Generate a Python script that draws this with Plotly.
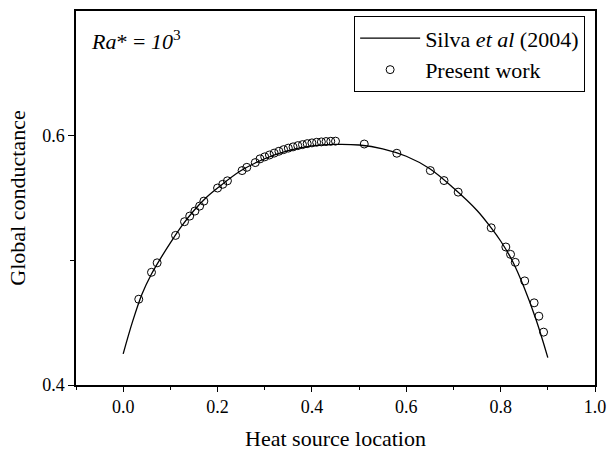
import plotly.graph_objects as go

# Silva et al (2004) curve
silva_x = [0.00, 0.02, 0.04, 0.06, 0.08, 0.10, 0.125, 0.15, 0.175, 0.20, 0.25, 0.30,
           0.35, 0.40, 0.45, 0.50, 0.55, 0.60, 0.65, 0.70, 0.75, 0.78, 0.80, 0.825,
           0.85, 0.875, 0.90]
silva_y = [0.425, 0.451, 0.473, 0.489, 0.502, 0.514, 0.528, 0.540, 0.550, 0.558, 0.572, 0.5815,
           0.588, 0.5918, 0.593, 0.5925, 0.5895, 0.5835, 0.5735, 0.558, 0.540, 0.526, 0.5155, 0.4995,
           0.478, 0.4525, 0.422]

# Present work points
present_x = [0.033, 0.060, 0.072, 0.111, 0.130, 0.141, 0.152, 0.162, 0.171, 0.200, 0.211, 0.221,
             0.252, 0.262, 0.28, 0.29, 0.30, 0.31, 0.32, 0.33, 0.34, 0.35, 0.36, 0.37, 0.38,
             0.39, 0.40, 0.41, 0.42, 0.43, 0.44, 0.45,
             0.511, 0.580, 0.651, 0.680, 0.710, 0.780, 0.811, 0.821, 0.831, 0.851, 0.871,
             0.881, 0.891]
present_y = [0.4688, 0.4904, 0.498, 0.520, 0.531, 0.5355, 0.5395, 0.5435, 0.5475, 0.558, 0.561, 0.5638,
             0.572, 0.5746, 0.5784, 0.5814, 0.583, 0.5845, 0.586, 0.5875, 0.5888, 0.590, 0.591, 0.592,
             0.5928, 0.5936, 0.5942, 0.5947, 0.595, 0.5953, 0.5955, 0.5956,
             0.5933, 0.5859, 0.572, 0.564, 0.5547, 0.5261, 0.5107, 0.5048, 0.4984, 0.4835, 0.4659,
             0.4552, 0.4424]

FONT = "Liberation Serif, Times New Roman, serif"

fig = go.Figure()
fig.add_trace(go.Scatter(
    x=silva_x, y=silva_y, mode="lines", line=dict(color="black", width=1.3, shape="spline"),
    name="Silva <i>et al</i> (2004)"))
fig.add_trace(go.Scatter(
    x=present_x, y=present_y, mode="markers",
    marker=dict(symbol="circle-open", size=8, color="black", line=dict(width=1)),
    name="Present work"))

axis_common = dict(
    showline=True, linecolor="black", linewidth=1.5, mirror=True,
    ticks="outside", tickcolor="black", tickwidth=1.2,
    showgrid=False, zeroline=False,
    tickfont=dict(family=FONT, size=18, color="black"),
)

fig.update_xaxes(
    range=[-0.1, 1.0], tickvals=[0.0, 0.2, 0.4, 0.6, 0.8, 1.0],
    ticktext=["0.0", "0.2", "0.4", "0.6", "0.8", "1.0"], ticklen=5,
    minor=dict(tickvals=[-0.1, 0.1, 0.3, 0.5, 0.7, 0.9], ticks="outside", ticklen=3,
               tickcolor="black", tickwidth=1.2),
    title=dict(text="Heat source location", font=dict(family=FONT, size=22, color="black"),
               standoff=15),
    **axis_common)
fig.update_yaxes(
    range=[0.4, 0.7], tickvals=[0.4, 0.6], ticktext=["0.4", "0.6"], ticklen=6,
    minor=dict(tickvals=[0.5], ticks="outside", ticklen=4, tickcolor="black", tickwidth=1.2),
    title=dict(text="Global conductance", font=dict(family=FONT, size=22, color="black"),
               standoff=10),
    **axis_common)

fig.add_annotation(
    xref="paper", yref="paper", x=0.026, y=0.922, xanchor="left", yanchor="middle",
    text="<i>Ra</i>* = <i>10</i><sup>3</sup>", showarrow=False,
    font=dict(family=FONT, size=22, color="black"))

fig.update_layout(
    width=609, height=451,
    margin=dict(l=75.5, r=14, t=10.7, b=66, autoexpand=False),
    paper_bgcolor="white", plot_bgcolor="white",
    showlegend=True,
    legend=dict(x=0.981, y=0.986, xanchor="right", yanchor="top",
                bordercolor="black", borderwidth=1, bgcolor="white",
                font=dict(family=FONT, size=22, color="black"),
                itemwidth=60, tracegroupgap=0),
)

fig.write_html("out.html")
